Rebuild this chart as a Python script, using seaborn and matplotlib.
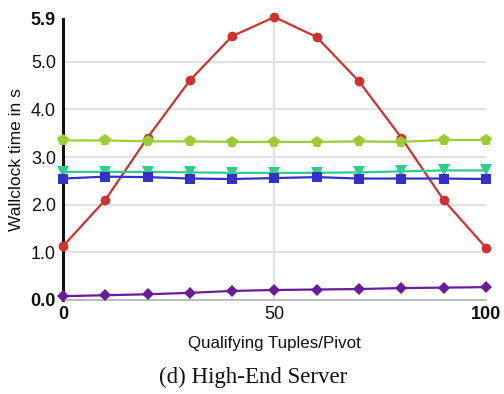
import matplotlib
matplotlib.use("Agg")
import matplotlib.pyplot as plt
import seaborn as sns
import pandas as pd

# Qualifying tuples per pivot (x axis)
tuples = [0, 10, 20, 30, 40, 50, 60, 70, 80, 90, 100]

# Wallclock times in seconds per series
red_times = [1.13, 2.10, 3.41, 4.61, 5.54, 5.94, 5.52, 4.59, 3.41, 2.10, 1.10]
green_times = [3.35, 3.35, 3.33, 3.33, 3.32, 3.32, 3.32, 3.33, 3.32, 3.36, 3.36]
teal_times = [2.69, 2.69, 2.69, 2.68, 2.67, 2.67, 2.67, 2.68, 2.70, 2.72, 2.72]
blue_times = [2.55, 2.59, 2.58, 2.55, 2.54, 2.56, 2.58, 2.55, 2.55, 2.55, 2.54]
purple_times = [0.08, 0.10, 0.12, 0.15, 0.19, 0.21, 0.22, 0.23, 0.25, 0.26, 0.27]

y_ticks = [0.0, 1.0, 2.0, 3.0, 4.0, 5.0, 5.9]
x_ticks = [0, 50, 100]

series = [
    ("red", red_times, "#d0312d", "o", 7),
    ("green", green_times, "#9acd32", "p", 8.5),
    ("teal", teal_times, "#2ecc8e", "v", 8),
    ("blue", blue_times, "#3232c8", "s", 7.5),
    ("purple", purple_times, "#6a1b9a", "D", 6.5),
]

frames = []
for name, vals, *_ in series:
    frames.append(pd.DataFrame({"tuples": tuples, "time": vals, "series": name}))
df = pd.concat(frames, ignore_index=True)

sns.set_theme(style="white")
plt.rcParams["font.family"] = ["Liberation Sans", "DejaVu Sans"]

fig = plt.figure(figsize=(5.04, 3.94), dpi=100)
ax = fig.add_axes([0.125, 0.2386, 0.839, 0.7132])

for name, vals, color, marker, ms in series:
    sub = df[df["series"] == name]
    sns.lineplot(data=sub, x="tuples", y="time", ax=ax, color=color,
                 marker=marker, markersize=ms, markeredgewidth=0,
                 linewidth=1.6, clip_on=False, zorder=3, legend=False)

ax.set_xlim(0, 100)
ax.set_ylim(0, 5.9)
ax.set_xticks(x_ticks)
ax.set_yticks(y_ticks)
ax.set_xticklabels([str(t) for t in x_ticks], fontsize=13)
ax.set_yticklabels([f"{t:.1f}" for t in y_ticks], fontsize=13)
for i, lab in enumerate(ax.get_yticklabels()):
    if i in (0, len(y_ticks) - 1):
        lab.set_fontweight("bold")
for i, lab in enumerate(ax.get_xticklabels()):
    if i in (0, len(x_ticks) - 1):
        lab.set_fontweight("bold")

ax.tick_params(axis="y", length=0, pad=5, colors="#111111")
ax.tick_params(axis="x", length=0, pad=4, colors="#111111")

# Horizontal grid lines at whole seconds, one vertical at the mid point
for yv in [1, 2, 3, 4, 5]:
    ax.axhline(yv, color="#e2e2e2", linewidth=1.5, zorder=1)
ax.axvline(50, color="#e2e2e2", linewidth=1.5, zorder=1)

for side in ("top", "right"):
    ax.spines[side].set_visible(False)
ax.spines["left"].set_color("#111111")
ax.spines["left"].set_linewidth(2.2)
ax.spines["bottom"].set_color("#b0b0b0")
ax.spines["bottom"].set_linewidth(1.2)

ax.set_xlabel("Qualifying Tuples/Pivot", fontsize=12.2, labelpad=10, color="#111111")
ax.set_ylabel("Wallclock time in s", fontsize=12.5, labelpad=5, color="#111111")

fig.text(0.503, 0.043, "(d) High-End Server", ha="center", va="center",
         fontsize=16.5, family=["Liberation Serif", "DejaVu Serif"], color="#111111")

fig.savefig("out.png", dpi=100)
